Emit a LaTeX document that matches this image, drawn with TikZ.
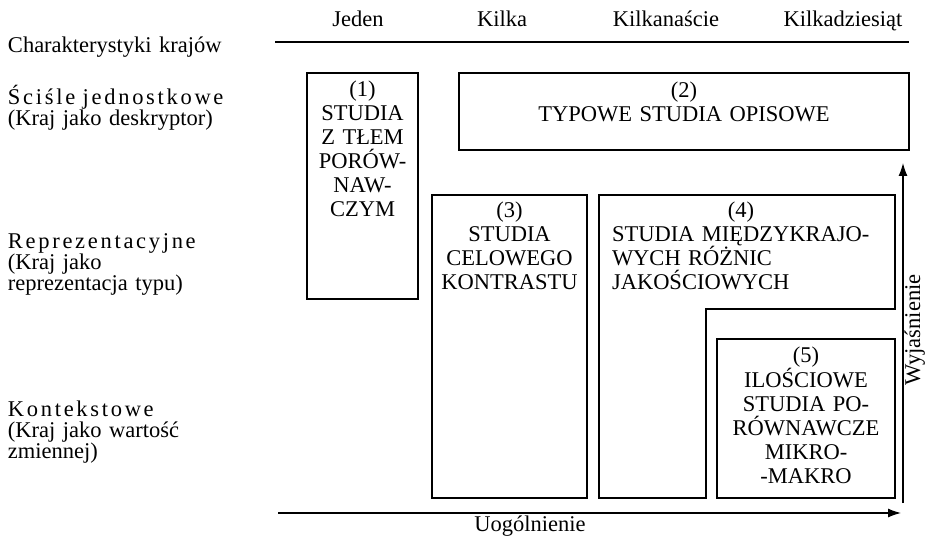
\documentclass[tikz,border=0pt]{standalone}
\usepackage{fontspec}
\setmainfont{Liberation Serif}
\newfontfamily\spacedfont[LetterSpace=12]{Liberation Serif}
\usetikzlibrary{arrows.meta}
\begin{document}
\begin{tikzpicture}[x=1pt,y=-1pt,
  every node/.style={inner sep=0pt, outer sep=0pt},
  head/.style={anchor=base, font=\fontsize{22.5}{24}\selectfont},
  lbl/.style={anchor=base west, align=left, text width=270pt, font=\fontsize{22.5}{21}\selectfont},
  boxtext/.style={anchor=base, align=center, text width=170pt, font=\fontsize{22.5}{24}\selectfont},
  frame/.style={line width=1.1pt},
  rule/.style={line width=1.2pt},
  axis/.style={line width=1.2pt, -{Latex[length=13pt,width=9pt]}},
]
\useasboundingbox (0,0) rectangle (926,537);

% header
\node[head] (h1) at (358,27) {Jeden};
\node[head] (h2) at (502,27) {Kilka};
\node[head] (h3) at (666,27) {Kilkanaście};
\node[head] (h4) at (843,27) {Kilkadziesiąt};
\coordinate (ls) at (275,42);
\coordinate (le) at (909,42);
\draw[rule] (ls) -- (le);

% left labels
\node[lbl] (lc) at (8,53) {Charakterystyki krajów};
\node[lbl] (l1) at (8,105) {{\spacedfont Ściśle jednostkowe}\\(Kraj jako deskryptor)};
\node[lbl] (l2) at (8,249) {{\spacedfont Reprezentacyjne}\\(Kraj jako\\reprezentacja typu)};
\node[lbl] (l3) at (8,416) {{\spacedfont Kontekstowe}\\(Kraj jako wartość\\zmiennej)};

% boxes
\draw[frame] (307,73) rectangle (418,299);
\draw[frame] (459,73) rectangle (909,150);
\draw[frame] (432,195) rectangle (587,498);
\draw[frame] (599,195) -- (895,195) -- (895,309) -- (706,309) -- (706,498) -- (599,498) -- cycle;
\draw[frame] (717,339) rectangle (895,498);

% box texts
\node[boxtext] (t1) at (362.5,97) {(1)\\STUDIA\\Z TŁEM\\PORÓW-\\NAW-\\CZYM};
\node[boxtext, text width=420pt] (t2) at (684,98) {(2)\\TYPOWE STUDIA OPISOWE};
\node[boxtext] (t3) at (509.5,218) {(3)\\STUDIA\\CELOWEGO\\KONTRASTU};
\node[anchor=base west, align=left, text width=258pt, font=\fontsize{22.5}{24}\selectfont] (t4) at (612,218)
  {\makebox[\linewidth]{(4)}\\STUDIA MIĘDZYKRAJO-\\WYCH RÓŻNIC\\JAKOŚCIOWYCH};
\node[boxtext] (t5) at (806,362) {(5)\\ILOŚCIOWE\\STUDIA PO-\\RÓWNAWCZE\\MIKRO-\\-MAKRO};

% axes
\coordinate (hs) at (278,513);
\coordinate (he) at (901,513);
\draw[axis] (hs) -- (he);
\coordinate (vs) at (903,503);
\coordinate (ve) at (903,163);
\draw[axis] (vs) -- (ve);
\node[head] (uo) at (530,531) {Uogólnienie};
\node[head, rotate=90] (wy) at (920,330) {Wyjaśnienie};
\end{tikzpicture}
\end{document}
